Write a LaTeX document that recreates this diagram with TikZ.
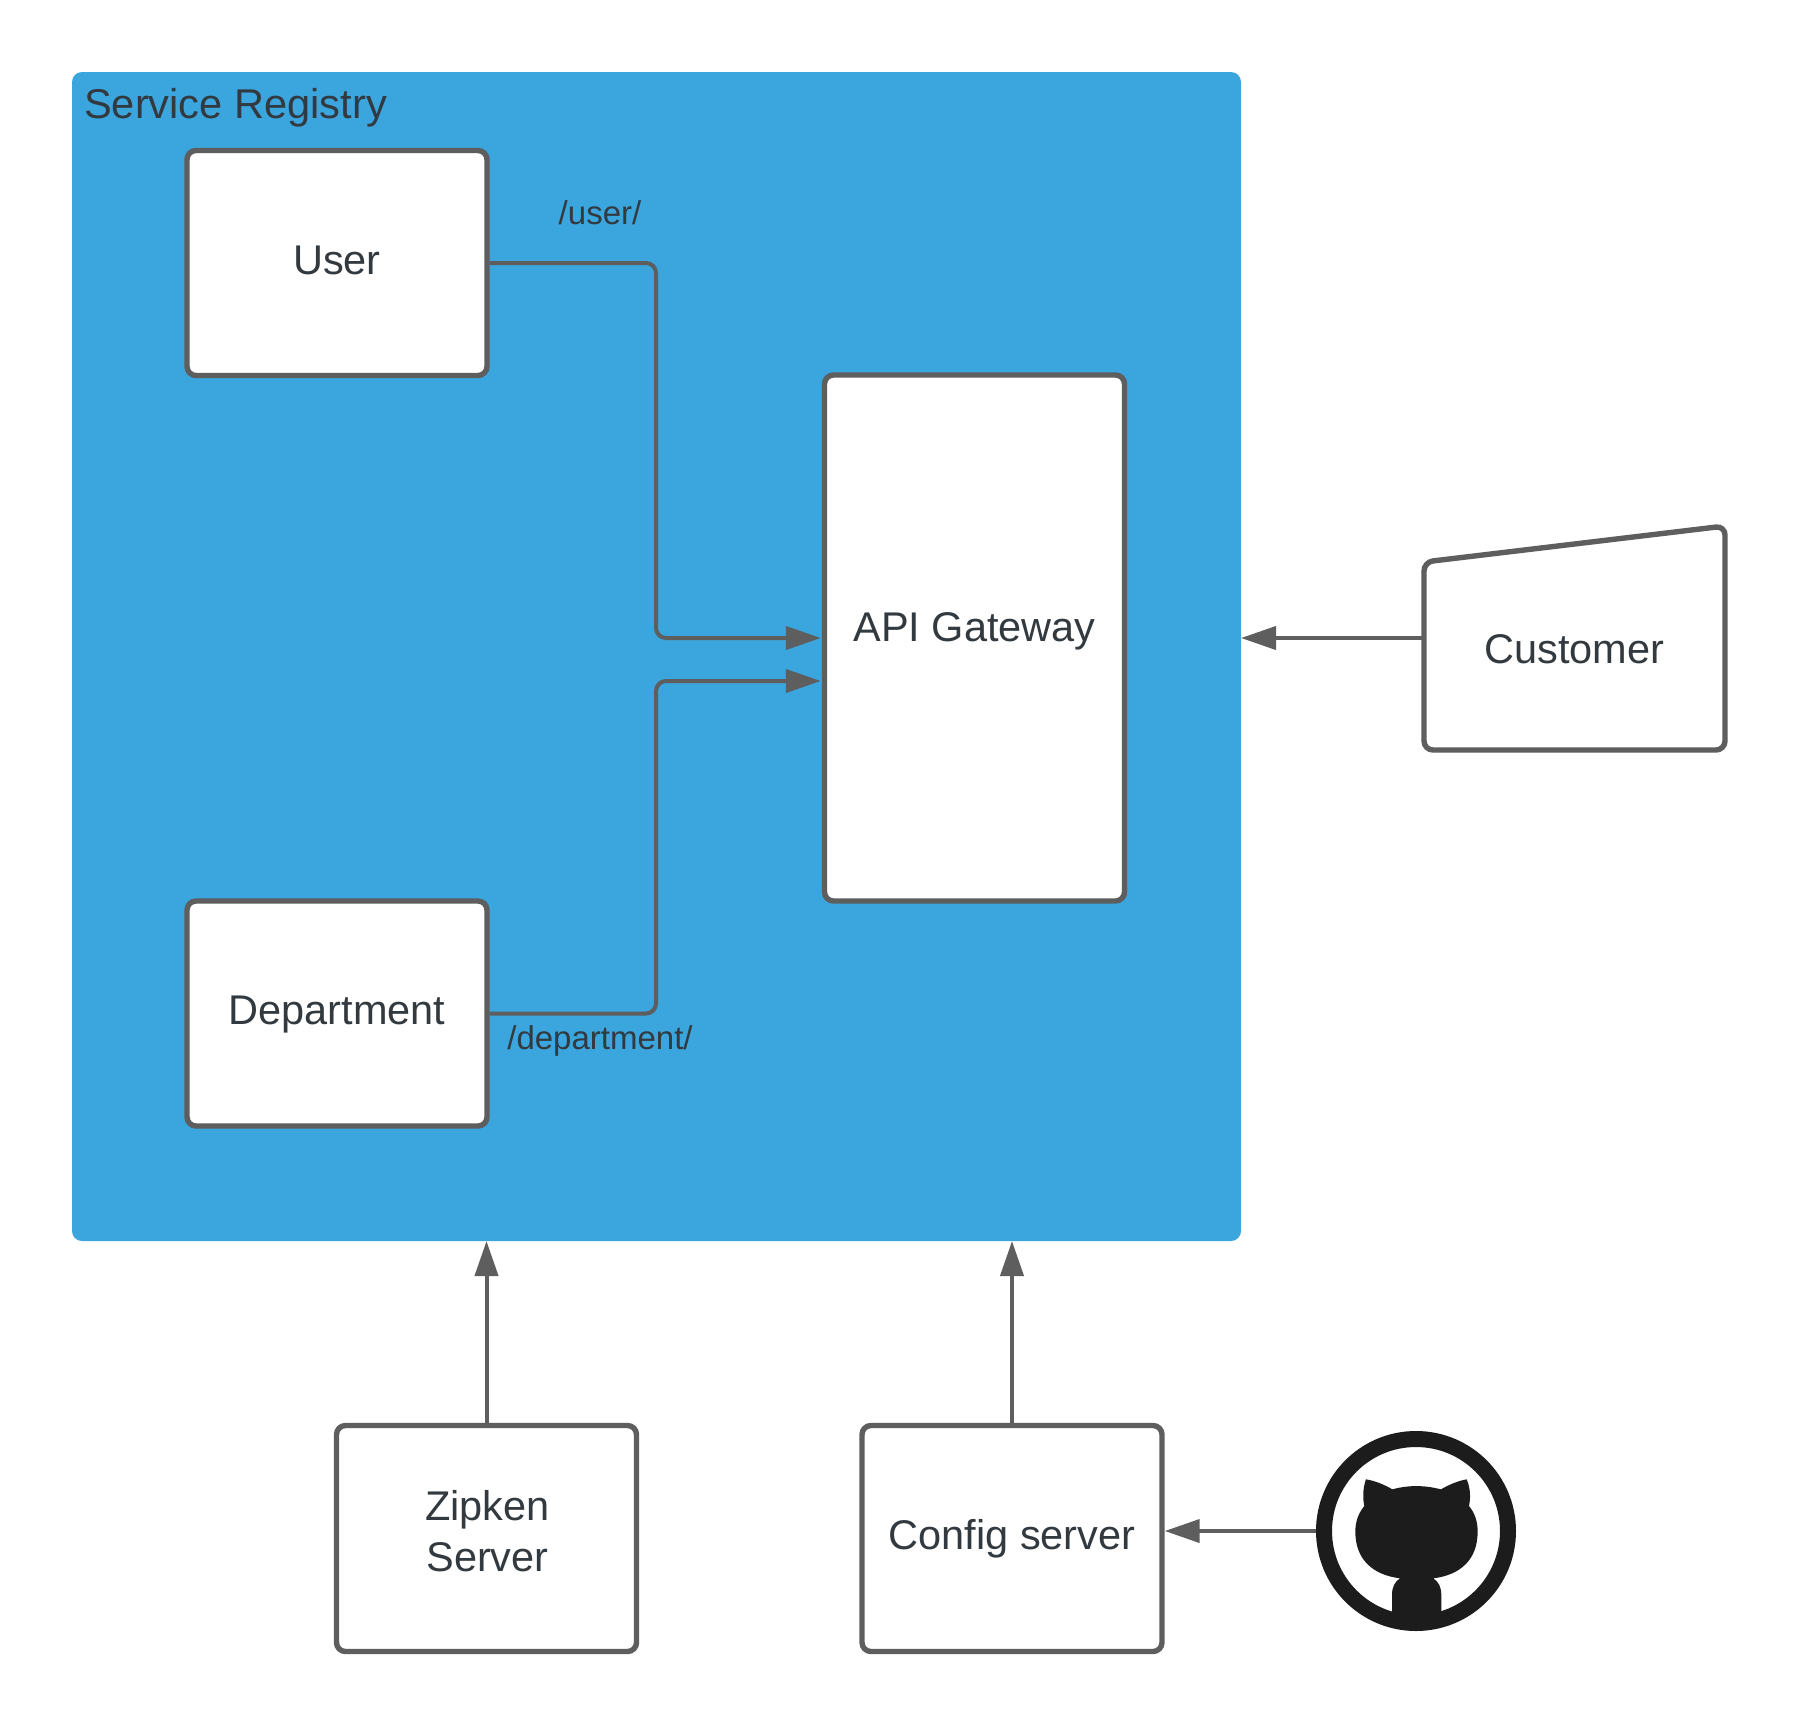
\documentclass[tikz,border=0pt]{standalone}
\usepackage{fontspec}
\setmainfont{Liberation Sans}
\usetikzlibrary{arrows.meta}
\definecolor{regblue}{HTML}{3BA5DE}
\definecolor{stroke}{HTML}{5E5E5E}
\definecolor{ink}{HTML}{333A3F}
\definecolor{catblack}{HTML}{1C1C1C}
\tikzset{
  boxnode/.style={draw=stroke,fill=white,line width=5.4pt,rounded corners=9pt,minimum width=300pt,
    text=ink,font=\fontsize{41.5}{50}\selectfont,inner sep=0pt,text height=0pt,text depth=0pt},
  conn/.style={draw=stroke,line width=4pt,-{Triangle[length=35pt,width=23pt]}},
  elbow/.style={conn,rounded corners=10pt,shorten >=1pt},
  pathlabel/.style={text=ink,font=\fontsize{33}{40}\selectfont,inner sep=0pt,anchor=base},
}
\begin{document}
\begin{tikzpicture}[x=1pt,y=-1pt]
\useasboundingbox (0,0) rectangle (1800,1725);
\fill[white] (0,0) rectangle (1800,1725);
% registry
\node[fill=regblue,rounded corners=10pt,minimum width=1169pt,minimum height=1169pt,inner sep=0pt,outer sep=0pt] (registry) at (656.5,656.5) {};
\node[text=ink,font=\fontsize{41.6}{50}\selectfont,inner sep=0pt,anchor=base west] (regtitle) at (84,118) {Service Registry};
% boxes
\node[boxnode,minimum height=225pt] (user) at (337,263) {\raisebox{-11pt}{User}};
\node[boxnode,minimum height=225pt] (department) at (337,1013.5) {\raisebox{-10.8pt}{Department}};
\node[boxnode,minimum height=526pt] (api) at (974.5,638) {\raisebox{-3.8pt}{API Gateway}};
\node[boxnode,minimum height=226pt] (zipken) at (486.5,1538.5) {\raisebox{-33.4pt}{\hspace{2pt}\shortstack{Zipken\\[10.4pt]Server}}};
\node[boxnode,minimum height=226pt] (config) at (1012,1538.5) {\raisebox{-11.3pt}{Config server}};
% customer
\node[minimum width=296pt,minimum height=224pt,inner sep=0pt,text=ink,font=\fontsize{41.5}{50}\selectfont,text height=0pt,text depth=0pt,line width=5pt] (customer) at (1574.5,638) {\raisebox{-25pt}{Customer}};
\draw[draw=stroke,line width=5.4pt,rounded corners=9pt] (customer.west |- 0,750) -- (customer.west |- 0,562) -- (customer.east |- 0,526) -- (customer.east |- 0,750) -- cycle;
% github
\node[circle,draw=catblack,line width=16pt,minimum size=184pt,inner sep=0pt] (github) at (1416,1531) {};
\begin{scope}[shift={(1280,1400)},x=0.3333pt,y=-0.3333pt]
\fill[catblack] (258,238) .. controls (285,242) and (315,255) .. (337,268)
 .. controls (385,255) and (432,255) .. (483,268)
 .. controls (505,255) and (535,242) .. (560,238)
 .. controls (572,265) and (572,295) .. (567,318)
 .. controls (585,340) and (593,365) .. (593,395)
 .. controls (593,480) and (540,525) .. (460,535)
 .. controls (475,545) and (484,560) .. (484,585)
 -- (484,650) -- (336,650) -- (336,585)
 .. controls (336,560) and (345,545) .. (360,535)
 .. controls (280,525) and (226,480) .. (226,395)
 .. controls (226,365) and (235,340) .. (253,318)
 .. controls (248,295) and (248,265) .. (258,238) -- cycle;
\end{scope}
% connectors
\coordinate (bend) at (656,0);
\coordinate (apiA) at (api.west |- 0,638);
\coordinate (apiB) at (api.west |- 0,681);
\draw[elbow] (user.east) -- (user.east -| bend) -- (bend |- apiA) -- (apiA);
\draw[elbow] (department.east) -- (department.east -| bend) -- (bend |- apiB) -- (apiB);
\draw[conn] (customer.west) -- (customer.west -| registry.east);
\draw[conn] (zipken.north) -- (zipken.north |- registry.south);
\draw[conn] (config.north) -- (config.north |- registry.south);
\draw[conn] (github.west) -- (github.west -| config.east);
% labels
\node[pathlabel] (userlabel) at (600,224) {/user/};
\node[pathlabel] (deptlabel) at (600,1049) {/department/};
\end{tikzpicture}
\end{document}
